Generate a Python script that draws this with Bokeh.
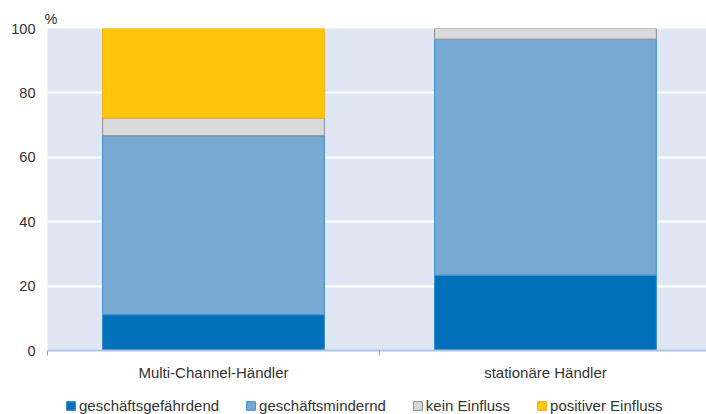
from bokeh.plotting import figure
from bokeh.models import Range1d, FixedTicker, Legend, LegendItem
from bokeh.layouts import column
from bokeh.embed import file_html
from bokeh.resources import INLINE

categories = ["Multi-Channel-Händler", "stationäre Händler"]
series_names = ["geschäftsgefährdend", "geschäftsmindernd", "kein Einfluss", "positiver Einfluss"]
gefaehrdend = [11.1, 23.4]
mindernd = [55.6, 73.3]
kein = [5.5, 3.3]
positiv = [27.8, 0.0]
y_ticks = [0, 20, 40, 60, 80, 100]

fill_colors = ["#0070BA", "#77A9D3", "#D9DADB", "#FFC60B"]
line_colors = ["#2F88CF", "#3F8ED2", "#8E8E8E", "#F2B20A"]

FONT = "Liberation Sans"

p = figure(frame_width=659, frame_height=322, output_backend="svg", toolbar_location=None,
           x_range=Range1d(0, 1.985), y_range=Range1d(0, 100),
           min_border_left=47, min_border_right=0, min_border_top=28, min_border_bottom=0)
p.outline_line_color = None
p.background_fill_color = "#E0E7F4"
p.border_fill_color = "white"

p.title.text = "%"
p.title.align = "left"
p.title.offset = -3
p.title.standoff = 4
p.title.text_font = FONT
p.title.text_font_size = "14.5px"
p.title.text_font_style = "normal"
p.title.text_color = "#333333"

xs = [i + 0.5 for i in range(len(categories))]
layers = [gefaehrdend, mindernd, kein, positiv]


def draw_stack(fig):
    bottoms = [0.0] * len(categories)
    rs = []
    for vals, fc, lc in zip(layers, fill_colors, line_colors):
        tops = [b + v for b, v in zip(bottoms, vals)]
        alphas = [1.0 if v > 0 else 0.0 for v in vals]
        r = fig.vbar(x=xs, width=0.668, bottom=bottoms, top=tops, fill_color=fc, line_color=lc,
                     line_width=1, line_alpha=alphas, fill_alpha=alphas)
        rs.append(r)
        bottoms = tops
    return rs


draw_stack(p)

# grid
p.xgrid.grid_line_color = None
p.ygrid.grid_line_color = "white"
p.ygrid.grid_line_width = 2
p.ygrid.ticker = FixedTicker(ticks=y_ticks)

# y axis
p.yaxis.ticker = FixedTicker(ticks=y_ticks)
p.yaxis.axis_line_color = None
p.yaxis.major_tick_line_color = None
p.yaxis.major_tick_out = 0
p.yaxis.major_tick_in = 0
p.yaxis.minor_tick_line_color = None
p.yaxis.major_label_text_font = FONT
p.yaxis.major_label_text_font_size = "14.5px"
p.yaxis.major_label_text_color = "#333333"
p.yaxis.major_label_standoff = 12

# x axis
p.xaxis.ticker = FixedTicker(ticks=xs, minor_ticks=[0, 1, 2])
p.xaxis.major_label_overrides = {x: c for x, c in zip(xs, categories)}
p.xaxis.axis_line_color = "#AFC3E3"
p.xaxis.axis_line_width = 2
p.xaxis.major_tick_line_color = None
p.xaxis.major_tick_out = 0
p.xaxis.major_tick_in = 0
p.xaxis.minor_tick_line_color = "#8FA8D4"
p.xaxis.minor_tick_line_width = 1
p.xaxis.minor_tick_out = 5
p.xaxis.minor_tick_in = 0
p.xaxis.major_label_text_font = FONT
p.xaxis.major_label_text_font_size = "15px"
p.xaxis.major_label_text_color = "#333333"
p.xaxis.major_label_standoff = 8

# legend strip: a second figure whose bars lie outside its view, so only the legend shows
p2 = figure(width=706, height=34, output_backend="svg", toolbar_location=None,
            x_range=Range1d(10, 11), y_range=Range1d(200, 300),
            min_border_left=0, min_border_right=0, min_border_top=0, min_border_bottom=0)
p2.axis.visible = False
p2.grid.visible = False
p2.outline_line_color = None
p2.background_fill_color = "white"
p2.border_fill_color = "white"
legend_renderers = draw_stack(p2)

legend = Legend(items=[LegendItem(label=n, renderers=[r]) for n, r in zip(series_names, legend_renderers)],
                orientation="horizontal", location=(18, 3),
                label_text_font=FONT, label_text_font_size="15px", label_text_color="#333333",
                glyph_width=11, glyph_height=11, label_standoff=3, spacing=26,
                padding=0, margin=0, border_line_color=None, background_fill_alpha=0)
p2.add_layout(legend)

layout = column(p, p2, spacing=0)
open("out.html", "w").write(file_html(layout, INLINE))
